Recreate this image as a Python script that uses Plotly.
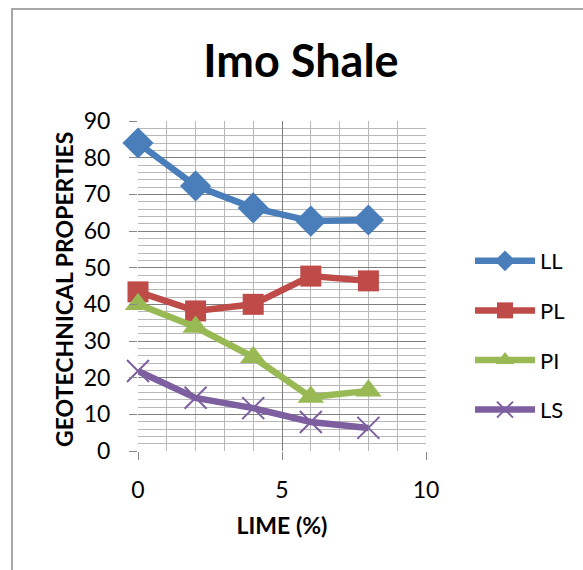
import plotly.graph_objects as go

lime = [0, 2, 4, 6, 8]
LL = [84, 72.3, 66.3, 62.7, 63]
PL = [43.4, 38.2, 40, 47.7, 46.4]
PI = [40, 33.8, 25.6, 14.7, 16.4]
LS = [21.8, 14.5, 11.7, 7.9, 6.3]

series = [
    ("LL", LL, "#4A7EBB", "diamond", 24),
    ("PL", PL, "#BE4B48", "square", 21),
    ("PI", PI, "#98B954", "triangle-up", 23),
    ("LS", LS, "#7D5FA0", "x-thin", 22),
]

FONT = "Lato"
W, H = 583, 570
L, R, T, B = 138, 157, 121, 119
pw, ph = W - L - R, H - T - B

fig = go.Figure()
for i, (name, vals, col, sym, sz) in enumerate(series):
    fig.add_trace(go.Scatter(
        x=lime, y=vals, name=name, mode="lines+markers",
        line=dict(color=col, width=6.5),
        marker=dict(symbol=sym, size=sz, color=col,
                    line=dict(color=col, width=2 if sym == "x-thin" else 0)),
        legendgroup=name, cliponaxis=False,
    ))

fig.update_layout(
    width=W, height=H,
    margin=dict(l=L, r=R, t=T, b=B),
    paper_bgcolor="white", plot_bgcolor="white",
    font=dict(family=FONT, color="black"),
    title=dict(text="<b>Imo Shale</b>", x=301 / W, xanchor="center",
               y=1 - 61 / H, yanchor="middle",
               font=dict(size=45, family=FONT, color="black")),
    showlegend=True,
    legend=dict(x=(470 - L) / pw, y=(451 - 240) / ph, xanchor="left", yanchor="top",
                font=dict(size=22, family=FONT, color="black"),
                tracegroupgap=18, itemwidth=60, bgcolor="rgba(0,0,0,0)"),
    xaxis=dict(range=[0, 10], tickvals=[0, 5, 10], ticks="outside", ticklen=8,
               tickcolor="#888888", showline=False, zeroline=False,
               showgrid=True, gridcolor="#808080", gridwidth=1,
               minor=dict(dtick=1, showgrid=True, gridcolor="#b8b8b8", gridwidth=1),
               tickfont=dict(size=23, family=FONT), ticklabelstandoff=10,
               title=dict(text="<b>LIME (%)</b>", font=dict(size=23, family=FONT), standoff=16)),
    yaxis=dict(range=[0, 90], tickvals=[0, 10, 20, 30, 40, 50, 60, 70, 80, 90],
               ticks="outside", ticklen=8, tickcolor="#888888",
               showline=False, zeroline=False,
               showgrid=True, gridcolor="#808080", gridwidth=1,
               minor=dict(dtick=2, showgrid=True, gridcolor="#b8b8b8", gridwidth=1),
               tickfont=dict(size=23, family=FONT), ticklabelstandoff=14),
)

# y-axis title as annotation for exact placement
fig.add_annotation(text="<b>GEOTECHNICAL PROPERTIES</b>", textangle=-90,
                   xref="paper", yref="paper", x=(64 - L) / pw, y=(451 - 290) / ph,
                   xanchor="center", yanchor="middle", showarrow=False,
                   font=dict(size=23, family=FONT, color="black"))

# chart frame
fig.add_shape(type="rect", xref="paper", yref="paper",
              x0=(12 - L) / pw, x1=(600 - L) / pw,
              y0=(451 - 600) / ph, y1=1 + (T - 9) / ph,
              line=dict(color="#8a8a8a", width=1.5), fillcolor="rgba(0,0,0,0)", layer="below")

fig.write_html("out.html")
